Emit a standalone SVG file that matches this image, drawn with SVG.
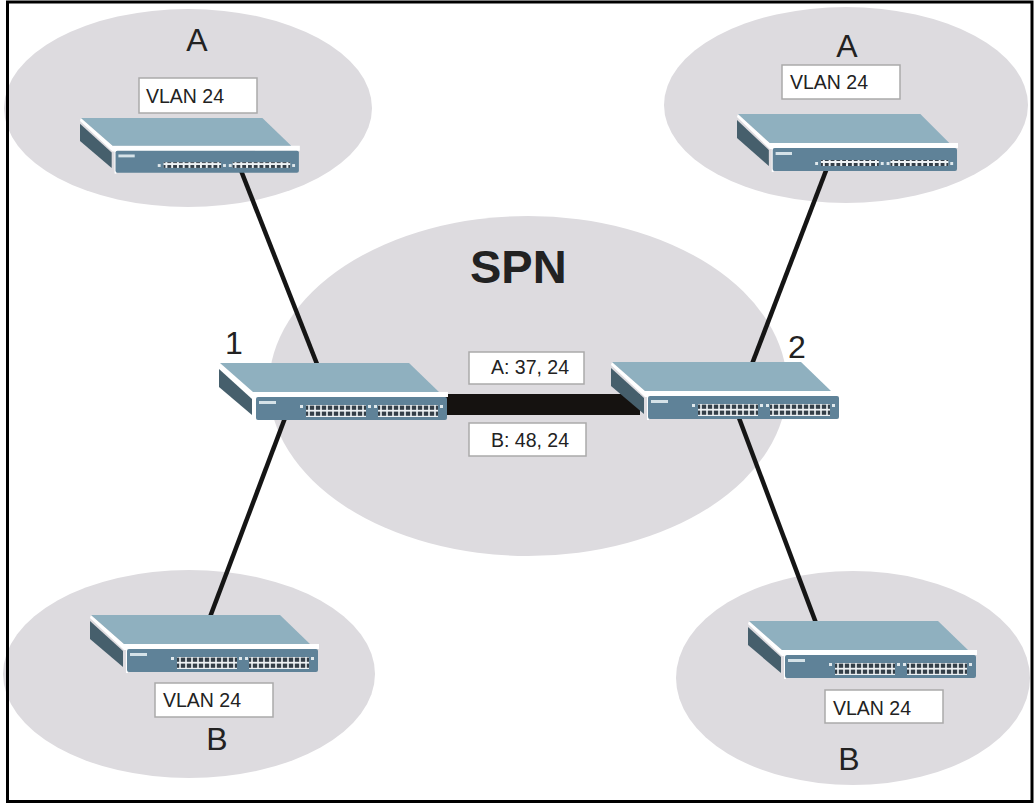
<svg xmlns="http://www.w3.org/2000/svg" width="1034" height="804" viewBox="0 0 1034 804">
<style>
.cloud{fill:#dddbdf}
.link{stroke:#151515;stroke-width:4.5;fill:none}
.box{fill:#fff;stroke:#aaa;stroke-width:1.5}
text{font-family:"Liberation Sans",Arial,sans-serif;fill:#222}
.v{font-size:19.5px}
.big{font-size:32px}
</style>
<defs>
<pattern id="p2" width="6" height="6" patternUnits="userSpaceOnUse"><rect x="0.8" y="0.6" width="4.4" height="4.2" fill="#333e47"/></pattern>
<pattern id="p1" width="6" height="6" patternUnits="userSpaceOnUse"><rect x="1" y="1" width="4" height="4" fill="#333e47"/></pattern>
<g id="body">
<polygon points="1,0 34,29 229,29 229,34 34,35 0,3" fill="#fff"/>
<polygon points="1,0 190,0 220,29 34,29" fill="#8fb0bf"/>
<polygon points="0,6 33,36 33,52 0,24" fill="#465f6c"/>
<rect x="36" y="32" width="2" height="26" fill="#fff"/>
<rect x="37" y="34" width="191" height="23" rx="2" fill="#5f8298"/>
<rect x="40" y="38" width="17" height="3" fill="#d5e2e8"/>
</g>
<g id="sw2">
<use href="#body"/>
<rect x="87" y="42" width="60" height="12" fill="#eef2f4"/><rect x="87" y="42" width="60" height="12" fill="url(#p2)"/>
<rect x="159" y="42" width="60" height="12" fill="#eef2f4"/><rect x="159" y="42" width="60" height="12" fill="url(#p2)"/>
<g fill="#dfe8ec"><rect x="81" y="42" width="3" height="3"/><rect x="149" y="42" width="3" height="3"/><rect x="155" y="42" width="3" height="3"/><rect x="221" y="42" width="3" height="3"/></g>
</g>
<g id="sw1">
<use href="#body"/>
<rect x="87" y="46" width="60" height="6" fill="#eef2f4"/><rect x="87" y="46" width="60" height="6" fill="url(#p1)"/>
<rect x="159" y="46" width="60" height="6" fill="#eef2f4"/><rect x="159" y="46" width="60" height="6" fill="url(#p1)"/>
<g fill="#dfe8ec"><rect x="81" y="48" width="3" height="3"/><rect x="149" y="48" width="3" height="3"/><rect x="155" y="48" width="3" height="3"/><rect x="221" y="48" width="3" height="3"/></g>
</g>
</defs>
<rect width="1034" height="804" fill="#fff"/>
<g id="regions">
<ellipse class="cloud" cx="188" cy="108" rx="184" ry="99"/>
<ellipse class="cloud" cx="846" cy="105" rx="182" ry="98"/>
<ellipse class="cloud" cx="189" cy="674" rx="186" ry="104"/>
<ellipse class="cloud" cx="853" cy="678" rx="177" ry="107"/>
<ellipse class="cloud" cx="528" cy="386" rx="259" ry="170"/>
</g>
<g id="connectors">
<line class="link" x1="240" y1="168" x2="317" y2="364"/>
<line class="link" x1="827" y1="168" x2="752" y2="364"/>
<line class="link" x1="285" y1="418" x2="210" y2="617"/>
<line class="link" x1="739" y1="418" x2="816" y2="623"/>
<rect x="440" y="394" width="200" height="21" fill="#151210"/>
</g>
<g id="switch-a-left"><use href="#sw1" transform="translate(80,118) scale(0.96,0.96)"/></g>
<g id="switch-a-right"><use href="#sw1" transform="translate(737,114) scale(0.965,1)"/></g>
<g id="switch-1"><use href="#sw2" transform="translate(219,363)"/></g>
<g id="switch-2"><use href="#sw2" transform="translate(611,362)"/></g>
<g id="switch-b-left"><use href="#sw2" transform="translate(90,615)"/></g>
<g id="switch-b-right"><use href="#sw2" transform="translate(748,621)"/></g>
<g id="labels">
<rect class="box" x="139" y="78" width="118" height="35"/><text class="v" x="146" y="103">VLAN 24</text>
<rect class="box" x="782" y="65" width="118" height="34"/><text class="v" x="790" y="89">VLAN 24</text>
<rect class="box" x="155" y="683" width="118" height="34"/><text class="v" x="163" y="707">VLAN 24</text>
<rect class="box" x="825" y="690" width="118" height="33"/><text class="v" x="833" y="715">VLAN 24</text>
<rect class="box" x="469" y="352" width="115" height="32"/><text class="v" x="491" y="374">A: 37, 24</text>
<rect class="box" x="469" y="423" width="117" height="33"/><text class="v" x="491" y="447">B: 48, 24</text>
<text class="big" x="197" y="51" text-anchor="middle">A</text>
<text class="big" x="847" y="57" text-anchor="middle">A</text>
<text class="big" x="217" y="750" text-anchor="middle">B</text>
<text class="big" x="849" y="770" text-anchor="middle">B</text>
<text class="big" x="234" y="354" text-anchor="middle">1</text>
<text class="big" x="797" y="358" text-anchor="middle">2</text>
<text x="470" y="283" font-size="47" font-weight="700">SPN</text>
</g>
<rect x="7.5" y="2" width="1024.5" height="799.5" fill="none" stroke="#000" stroke-width="3"/>
</svg>
